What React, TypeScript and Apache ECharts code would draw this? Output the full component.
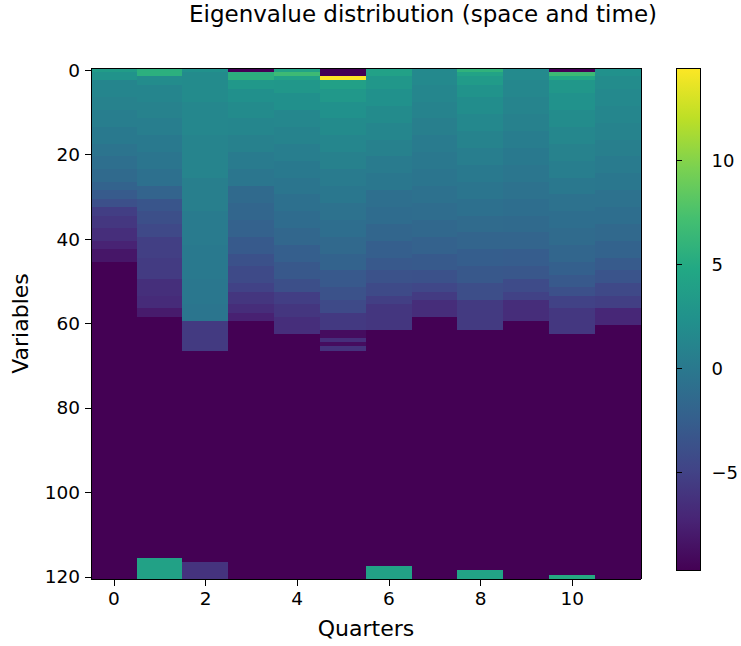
import React, { useEffect, useRef } from "react";
import * as echarts from "echarts";

const MIN_V = -9.67;
const MAX_V = 14.42;

const quarterLabels = ["0", "1", "2", "3", "4", "5", "6", "7", "8", "9", "10", "11"];
const variableCount = 121;
const variableLabels = Array.from({ length: variableCount }, (_, i) => String(i));
const colorbarTicks = [-5, 0, 5, 10];

// Each column: runs of [startRow, value]; a value holds until the next start row.
const col0Runs = [[0, 3.5], [1, 2.6], [3, 1.2], [7, 0.9], [10, 0.5], [14, 0.1], [18, -0.4], [21, -0.9], [24, -1.4], [27, -2.1], [29, -2.8], [31, -3.8], [33, -5.3], [35, -5.8], [38, -6.5], [41, -7.3], [43, -8.2], [46, MIN_V]];
const col1Runs = [[0, 5.5], [2, 1.9], [4, 1.2], [8, 0.9], [12, 0.5], [16, 0.1], [20, -0.3], [24, -0.8], [28, -2.0], [31, -3.3], [34, -3.9], [37, -4.4], [40, -5.2], [45, -5.5], [50, -6.4], [54, -6.7], [57, -7.9], [59, MIN_V], [116, 4.1]];
const col2Runs = [[0, 2.4], [1, 1.8], [8, 1.4], [16, 1.1], [26, 0.6], [34, 0.3], [42, 0.1], [50, -0.1], [56, -0.3], [60, -5.6], [67, MIN_V], [117, -6.1]];
const col3Runs = [[0, MIN_V], [1, 5.5], [3, 3.1], [5, 2.3], [8, 1.8], [12, 1.3], [16, 0.8], [20, 0.3], [24, -0.2], [28, -1.4], [32, -1.8], [36, -2.2], [40, -2.9], [44, -3.7], [47, -4.3], [51, -5.0], [53, -5.9], [56, -6.6], [58, -7.5], [60, MIN_V]];
const col4Runs = [[0, 4.3], [1, 6.7], [2, 4.0], [3, 3.0], [6, 2.3], [10, 1.4], [14, 1.0], [18, 0.5], [22, 0.1], [26, -0.3], [30, -0.8], [34, -1.2], [38, -1.7], [42, -2.4], [46, -3.1], [50, -3.9], [53, -5.3], [56, -5.9], [59, -6.5], [63, MIN_V]];
const col5Runs = [[0, MIN_V], [2, MAX_V], [3, 3.9], [5, 3.1], [8, 2.4], [12, 1.8], [16, 1.3], [20, 0.8], [24, 0.3], [28, -0.1], [32, -0.6], [36, -1.0], [40, -1.5], [44, -2.1], [48, -3.0], [52, -3.6], [55, -4.3], [58, -5.7], [62, -8.9], [64, -6.5], [65, -8.9], [66, -6.3], [67, MIN_V]];
const col6Runs = [[0, 4.0], [2, 3.0], [5, 2.4], [9, 1.8], [13, 1.3], [17, 0.8], [21, 0.3], [25, -0.1], [29, -0.9], [33, -1.2], [37, -1.8], [41, -2.4], [45, -3.0], [48, -3.6], [51, -4.3], [54, -5.2], [56, -5.9], [62, MIN_V], [118, 4.1]];
const col7Runs = [[0, 1.6], [4, 1.3], [8, 1.0], [12, 0.6], [16, 0.3], [20, 0], [24, -0.3], [28, -0.7], [32, -1.1], [36, -1.6], [40, -2.2], [44, -2.9], [48, -3.7], [51, -4.6], [53, -5.5], [55, -6.6], [59, MIN_V]];
const col8Runs = [[0, 5.8], [1, 4.3], [2, 3.4], [4, 2.6], [7, 2.0], [11, 1.5], [15, 1.0], [19, 0.5], [23, 0.1], [27, -0.3], [31, -0.8], [35, -1.3], [39, -1.9], [43, -2.5], [47, -3.1], [51, -4.0], [55, -5.6], [62, MIN_V], [119, 4.3]];
const col9Runs = [[0, 1.7], [3, 1.4], [7, 1.1], [11, 0.8], [15, 0.4], [19, 0.1], [23, -0.2], [27, -0.6], [31, -1.0], [35, -1.4], [39, -1.9], [43, -2.6], [47, -3.2], [50, -4.2], [53, -5.0], [55, -6.6], [60, MIN_V]];
const col10Runs = [[0, MIN_V], [1, 6.7], [2, 4.7], [3, 3.0], [6, 2.5], [10, 1.9], [14, 1.4], [18, 0.9], [22, 0.5], [26, 0], [30, -0.6], [34, -1.0], [38, -1.3], [42, -1.8], [46, -2.3], [49, -3.0], [52, -3.8], [54, -5.0], [57, -5.8], [63, MIN_V], [120, 5.0]];
const col11Runs = [[0, 2.4], [2, 1.9], [5, 1.6], [9, 1.3], [13, 1.0], [17, 0.6], [21, 0.3], [25, -0.1], [29, -0.6], [33, -1.0], [37, -1.5], [41, -2.1], [45, -2.8], [48, -3.4], [51, -4.4], [54, -5.2], [57, -7.0], [61, MIN_V]];

const columnRuns = [col0Runs, col1Runs, col2Runs, col3Runs, col4Runs, col5Runs, col6Runs, col7Runs, col8Runs, col9Runs, col10Runs, col11Runs];

const viridis = ["#440154", "#482475", "#414487", "#355f8d", "#2a788e", "#21918c", "#22a884", "#44bf70", "#7ad151", "#bddf26", "#fde725"];

function buildCells() {
  const cells: number[][] = [];
  columnRuns.forEach((runs, x) => {
    for (let r = 0; r < runs.length; r++) {
      const start = runs[r][0];
      const end = r + 1 < runs.length ? runs[r + 1][0] : variableCount;
      for (let y = start; y < end; y++) cells.push([x, y, runs[r][1]]);
    }
  });
  return cells;
}

const FONT = "DejaVu Sans";
const TICK_FS = 18.5;
const LABEL_FS = 22;
const TITLE_FS = 23;

export default function App() {
  const ref = useRef<HTMLDivElement>(null);
  useEffect(() => {
    if (!ref.current) return;
    const chart = echarts.init(ref.current, null, { renderer: "svg" });
    const gradStops = viridis.map((c, i) => ({ offset: i / (viridis.length - 1), color: c }));
    const axisLineStyle = { color: "#000", width: 1 };
    chart.setOption({
      animation: false,
      backgroundColor: "#fff",
      textStyle: { fontFamily: FONT },
      graphic: [
        {
          type: "text",
          x: 423,
          y: 14,
          style: {
            text: "Eigenvalue distribution (space and time)",
            font: `${TITLE_FS}px "${FONT}"`,
            fill: "#000",
            align: "center",
            verticalAlign: "middle",
          },
        },
      ],
      grid: [
        { left: 91, top: 68, width: 550, height: 511, containLabel: false },
        { left: 676, top: 68, width: 25, height: 502, containLabel: false },
      ],
      xAxis: [
        {
          type: "category",
          gridIndex: 0,
          data: quarterLabels,
          position: "bottom",
          z: 10,
          axisLine: { show: true, lineStyle: axisLineStyle },
          axisTick: { show: true, interval: 1, alignWithLabel: true, length: 6.5, lineStyle: axisLineStyle },
          axisLabel: { interval: 1, color: "#000", fontSize: TICK_FS, fontFamily: FONT, margin: 10 },
          splitLine: { show: false },
          name: "Quarters",
          nameLocation: "middle",
          nameGap: 38,
          nameTextStyle: { color: "#000", fontSize: LABEL_FS, fontFamily: FONT },
        },
        {
          type: "category",
          gridIndex: 0,
          data: quarterLabels,
          position: "top",
          z: 10,
          axisLine: { show: true, lineStyle: axisLineStyle },
          axisTick: { show: false },
          axisLabel: { show: false },
        },
        {
          type: "value",
          gridIndex: 1,
          min: 0,
          max: 1,
          show: false,
        },
      ],
      yAxis: [
        {
          type: "category",
          gridIndex: 0,
          data: variableLabels,
          inverse: true,
          position: "left",
          z: 10,
          axisLine: { show: true, lineStyle: axisLineStyle },
          axisTick: { show: true, interval: 19, alignWithLabel: true, length: 6.5, lineStyle: axisLineStyle },
          axisLabel: { interval: 19, color: "#000", fontSize: TICK_FS, fontFamily: FONT, margin: 11 },
          splitLine: { show: false },
          name: "Variables",
          nameLocation: "middle",
          nameGap: 60,
          nameTextStyle: { color: "#000", fontSize: LABEL_FS, fontFamily: FONT },
        },
        {
          type: "category",
          gridIndex: 0,
          data: variableLabels,
          inverse: true,
          position: "right",
          z: 10,
          axisLine: { show: true, lineStyle: axisLineStyle },
          axisTick: { show: false },
          axisLabel: { show: false },
        },
        {
          type: "value",
          gridIndex: 1,
          min: MIN_V,
          max: MAX_V,
          position: "right",
          z: 10,
          axisLine: { show: false },
          axisTick: { show: true, customValues: colorbarTicks, length: 6, lineStyle: axisLineStyle },
          axisLabel: {
            customValues: colorbarTicks,
            color: "#000",
            fontSize: 18,
            fontFamily: FONT,
            margin: 11,
            formatter: (v: number) => String(v).replace("-", "\u2212"),
          },
          splitLine: { show: false },
        },
      ],
      visualMap: {
        type: "continuous",
        show: false,
        min: MIN_V,
        max: MAX_V,
        dimension: 2,
        seriesIndex: 0,
        inRange: { color: viridis },
      },
      series: [
        {
          type: "heatmap",
          xAxisIndex: 0,
          yAxisIndex: 0,
          data: buildCells(),
          itemStyle: { borderWidth: 0 },
          emphasis: { disabled: true },
          progressive: 0,
        },
        {
          type: "custom",
          xAxisIndex: 2,
          yAxisIndex: 2,
          data: [[0, MIN_V]],
          silent: true,
          renderItem: (params: any) => {
            const cs = params.coordSys;
            return {
              type: "rect",
              shape: { x: cs.x, y: cs.y, width: cs.width, height: cs.height },
              style: {
                fill: new echarts.graphic.LinearGradient(0, 1, 0, 0, gradStops),
                stroke: "#000",
                lineWidth: 1,
              },
            };
          },
        },
      ],
    });
    return () => chart.dispose();
  }, []);
  return (
    <>
      <style>{"#chart-root svg path { shape-rendering: crispEdges; }"}</style>
      <div
        id="chart-root"
        ref={ref}
        style={{ width: 741, height: 646, position: "absolute", left: 0, top: 0 }}
      />
    </>
  );
}
